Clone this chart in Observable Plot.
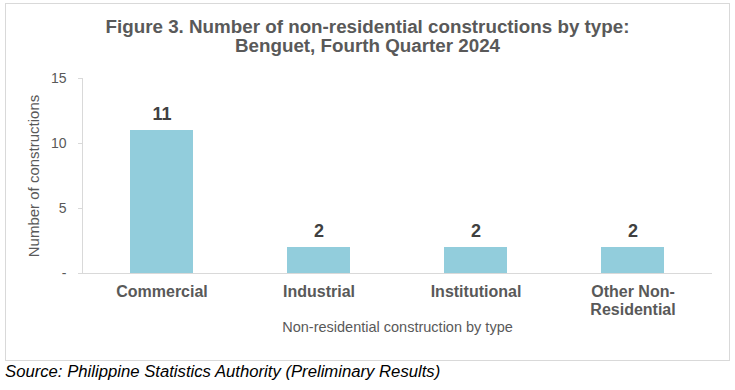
<!DOCTYPE html>
<html>
<head>
<meta charset="utf-8">
<script src="https://cdn.jsdelivr.net/npm/d3@7"></script>
<script src="https://cdn.jsdelivr.net/npm/@observablehq/plot@0.6"></script>
<style>
  html, body { margin: 0; padding: 0; background: #fff; }
  #wrap { position: relative; width: 735px; height: 390px; font-family: "Liberation Sans", Arial, sans-serif; }
  #box { position: absolute; left: 5px; top: 3px; width: 725px; height: 358px; border: 1px solid #d9d9d9; box-sizing: border-box; }
  #chart { position: absolute; left: 0; top: 0; }
  #title { position: absolute; left: 0; top: 17px; width: 735px; text-align: center; font-weight: bold; font-size: 18.8px; line-height: 19px; color: #595959; }
  #title div { height: 19px; }
  #source { position: absolute; left: 5px; top: 362px; font-style: italic; font-size: 16.7px; color: #000; }
</style>
</head>
<body>
<div id="wrap">
  <div id="box"></div>
  <div id="chart"></div>
  <div id="title"><div>Figure 3. Number of non-residential constructions by type:</div><div>Benguet, Fourth Quarter 2024</div></div>
  <div id="source">Source: Philippine Statistics Authority (Preliminary Results)</div>
</div>
<script>
const categories = ["Commercial", "Industrial", "Institutional", "Other Non-Residential"];
const values = [11, 2, 2, 2];
const categoryLabels = ["Commercial", "Industrial", "Institutional", "Other Non-\nResidential"];
const yTicks = [0, 5, 10, 15];
const yTickLabels = ["-", "5", "10", "15"];
const yTitle = "Number of constructions";
const xTitle = "Non-residential construction by type";

const data = categories.map((c, i) => ({cat: c, val: values[i]}));
const grid = "#d9d9d9";
const textColor = "#595959";

const chart = Plot.plot({
  width: 735,
  height: 360,
  marginTop: 78,
  marginBottom: 87,
  marginLeft: 82,
  marginRight: 23,
  style: {fontFamily: "'Liberation Sans', Arial, sans-serif", fontSize: "14px", color: textColor, background: "transparent"},
  x: {domain: categories, paddingInner: 0.6, paddingOuter: 0.3, label: null, axis: null},
  y: {domain: [0, 15], label: null, axis: null},
  marks: [
    Plot.frame({anchor: "left", stroke: grid}),
    Plot.ruleY([0], {stroke: grid}),
    Plot.axisY({ticks: yTicks, tickSize: 4, text: null, stroke: grid, label: null}),
    Plot.axisY({ticks: yTicks, tickSize: 0, tickPadding: 16, fontSize: 14, fill: textColor,
      tickFormat: d => yTickLabels[yTicks.indexOf(d)], label: null}),
    Plot.axisX({tickSize: 0, tickPadding: 11, fontSize: 16, fontWeight: "bold", fill: textColor,
      lineHeight: 1.1, tickFormat: d => categoryLabels[categories.indexOf(d)], label: null}),
    Plot.barY(data, {x: "cat", y: "val", fill: "#92CDDC"}),
    Plot.text(data, {x: "cat", y: "val", text: d => String(d.val), dy: -16, fontSize: 18, fontWeight: "bold", fill: "#404040"}),
    Plot.text([yTitle], {frameAnchor: "left", textAnchor: "middle", rotate: -90, dx: -48, fontSize: 15, fill: textColor}),
    Plot.text([xTitle], {frameAnchor: "bottom", dy: 58, fontSize: 14.5, fill: textColor})
  ]
});
document.getElementById("chart").appendChild(chart);
</script>
</body>
</html>
